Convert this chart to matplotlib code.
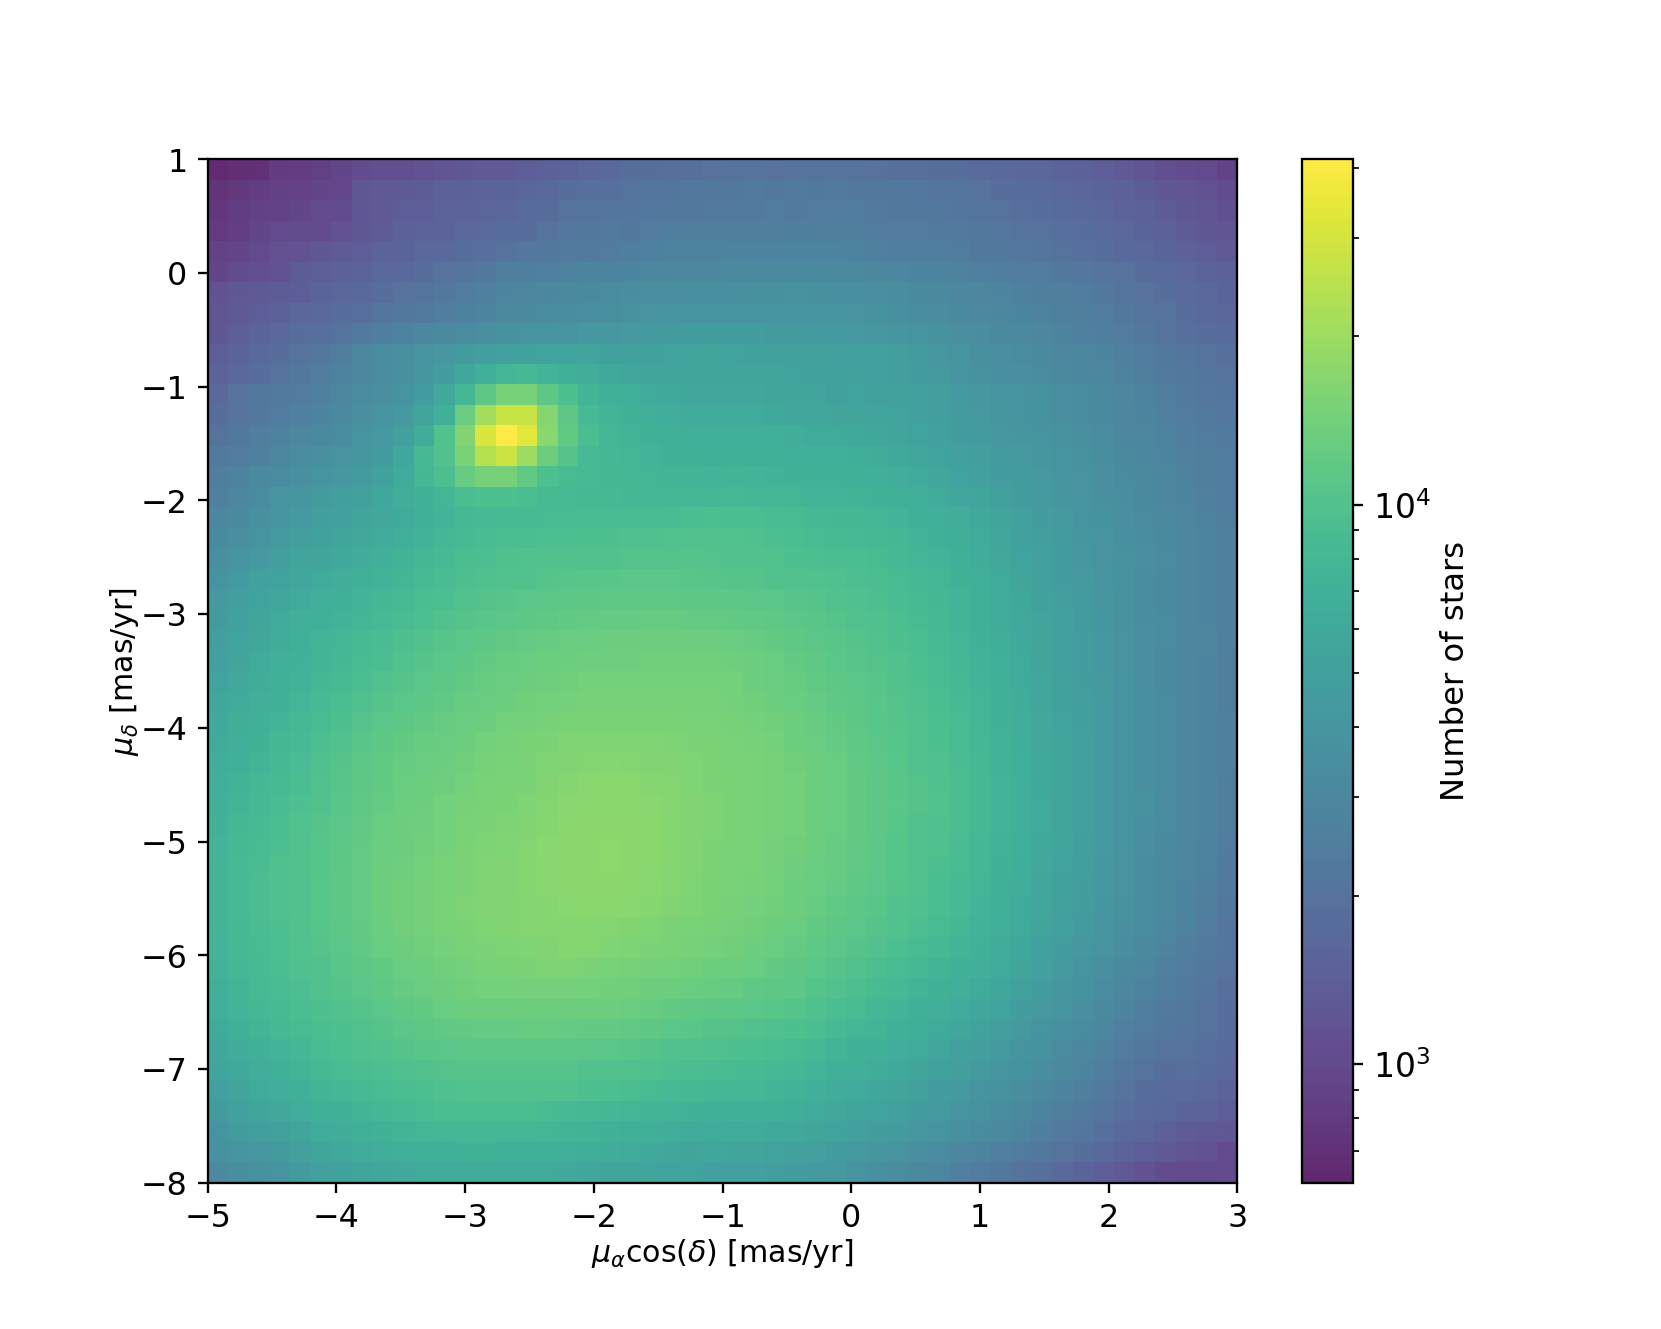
import numpy as np
import matplotlib
matplotlib.use("Agg")
import matplotlib.pyplot as plt
from matplotlib.colors import LogNorm

# proper motion bin edges
x_range = (-5.0, 3.0)
y_range = (-8.0, 1.0)
nbins = 50
vmin = 614
vmax = 41400

# star counts per bin, top row first
counts_top = [
[650,680,690,800,820,860,950,1050,1100,1100,1150,1200,1250,1300,1300,1400,1450,1500,1600,1700,1800,1850,1900,1900,1950,2000,2000,1950,2000,2050,2000,2000,1950,1900,1900,1850,1800,1750,1700,1600,1600,1500,1450,1400,1300,1200,1100,1050,1000,900],
[740,780,830,870,900,930,970,1250,1300,1300,1350,1450,1450,1500,1550,1600,1650,1850,1900,1900,2050,2100,2100,2200,2250,2250,2300,2250,2300,2250,2300,2250,2250,2200,2150,2100,2050,1950,1850,1800,1750,1650,1600,1550,1450,1350,1250,1200,1150,1050],
[770,830,880,900,950,1000,1010,1280,1300,1400,1420,1500,1520,1580,1620,1720,1780,2000,2050,2100,2100,2150,2200,2250,2300,2300,2300,2350,2300,2350,2350,2350,2300,2250,2250,2200,2100,2050,1950,1900,1850,1750,1700,1600,1500,1450,1350,1250,1200,1100],
[790,850,950,1000,1030,1050,1150,1250,1320,1450,1500,1550,1650,1750,1800,1850,2000,2150,2250,2300,2250,2400,2450,2500,2450,2500,2500,2500,2550,2550,2500,2450,2400,2400,2350,2300,2300,2250,2150,2050,2000,1900,1800,1750,1650,1550,1450,1350,1250,1200],
[900,950,1000,1120,1150,1250,1320,1400,1500,1550,1650,1700,1800,1900,2050,2150,2200,2300,2300,2400,2550,2650,2700,2700,2700,2750,2800,2800,2850,2800,2800,2700,2600,2550,2500,2450,2350,2250,2200,2150,2100,2000,1900,1800,1700,1650,1550,1450,1400,1300],
[950,1050,1100,1150,1350,1400,1450,1550,1650,1700,1850,1950,2050,2250,2500,2550,2600,2700,2750,2800,2850,2900,2950,3000,3000,3100,3100,3100,3150,3200,3150,3100,3000,2900,2800,2750,2700,2600,2500,2400,2350,2250,2150,2050,1950,1850,1750,1650,1550,1450],
[1150,1250,1300,1350,1400,1550,1600,1700,1850,1950,2050,2250,2400,2600,2800,2900,3000,3100,3200,3300,3400,3500,3500,3550,3600,3600,3650,3650,3700,3650,3600,3600,3500,3400,3200,3100,3000,2900,2750,2650,2550,2450,2350,2200,2050,1950,1850,1750,1650,1550],
[1200,1300,1400,1450,1600,1700,1800,1900,2100,2200,2300,2500,2650,2800,3100,3200,3300,3400,3500,3600,3700,3800,3850,3900,4000,4000,4000,3950,3950,3900,3850,3800,3700,3600,3450,3350,3200,3050,2950,2850,2700,2600,2500,2350,2250,2050,1950,1800,1700,1600],
[1250,1400,1550,1650,1800,1900,2050,2300,2500,2700,2900,3100,3300,3500,3700,3800,3900,4000,4200,4200,4300,4400,4500,4600,4700,4600,4600,4500,4500,4400,4400,4300,4200,4100,3900,3700,3500,3350,3200,3100,3000,2800,2600,2500,2400,2200,2050,1900,1800,1750],
[1400,1550,1700,1800,2000,2200,2500,3000,3300,3500,3800,4200,4500,4800,5000,5200,5300,5300,5400,5200,5100,5200,5300,5400,5500,5300,5200,5200,5100,5100,5000,5000,4900,4800,4500,4200,3900,3600,3500,3300,3200,3000,2900,2800,2600,2400,2250,2100,2000,1900],
[1500,1650,1850,2000,2200,2450,2700,3000,3300,3600,4100,4700,5700,6800,7800,8300,7500,7000,6500,6000,5800,5600,5500,5500,5500,5500,5400,5400,5300,5200,5200,5100,5000,4800,4600,4300,3900,3700,3600,3500,3300,3100,3000,2900,2700,2500,2300,2200,2100,2000],
[1650,1950,2250,2300,2400,2600,3000,3300,3500,3900,4600,5900,8000,11500,14500,14500,11500,9500,7700,7100,6800,6300,6000,5800,5800,5800,5800,5600,5500,5400,5200,5300,5100,5100,5000,4800,4400,4200,4000,3800,3700,3500,3300,3100,2900,2700,2500,2300,2150,2100],
[1800,2000,2250,2350,2600,2800,3100,3500,3900,4300,5500,7000,13000,21000,27000,27000,16500,11500,8500,7500,7200,6800,6500,6300,6200,6300,6200,6000,5800,5700,5600,5500,5400,5300,5000,4800,4500,4300,4100,3900,3700,3500,3300,3200,3000,2800,2600,2400,2300,2150],
[2000,2200,2500,2700,2900,3100,3300,3900,4300,4900,6400,9800,16000,31000,41400,33000,17000,12000,9000,7800,7500,7200,6900,6800,6700,6800,6700,6700,6500,6300,6200,6000,5800,5600,5300,5000,4700,4500,4200,4100,3900,3700,3500,3300,3000,2900,2700,2500,2400,2300],
[2300,2400,2600,3000,3300,3500,3800,4100,4600,5700,8200,10000,15000,24000,28000,20000,13500,10500,8500,8000,7800,7600,7300,7200,7100,7200,7100,7000,6800,6800,6700,6600,6400,6000,5700,5300,5000,4800,4500,4300,4100,3900,3700,3400,3200,3000,2800,2600,2500,2400],
[2500,2700,3100,3300,3600,3900,4200,4500,5200,6300,8000,9300,12500,14500,14500,12000,9500,8800,8400,8100,8000,7800,7700,7700,7600,7700,7500,7400,7300,7200,7200,7000,6800,6500,6200,5700,5300,5000,4700,4500,4300,4000,3800,3500,3300,3100,2900,2700,2500,2400],
[2600,2900,3300,3800,4100,4500,4800,5100,5800,6600,7200,7800,9000,9500,9500,9000,8600,8400,8300,8200,8100,8100,8000,8000,8000,8200,8100,8000,7800,7600,7500,7400,7200,7000,6700,6200,5700,5400,5100,4700,4400,4100,3800,3600,3400,3200,3000,2800,2600,2400],
[2900,3200,3600,4000,4400,4800,5000,5400,5900,6300,7000,7600,8200,8500,8600,8600,8700,8800,8800,8800,8800,8800,8900,9100,9300,9200,9100,8900,8700,8300,8100,8000,7800,7500,7100,6800,6500,6000,5500,5000,4700,4300,4000,3700,3500,3300,3100,2900,2700,2500],
[3200,3500,3900,4300,4800,5200,5600,5900,6300,6800,7400,8000,8500,8900,9100,9200,9300,9400,9500,9500,9600,9700,9800,9900,9900,9800,9600,9400,9100,8800,8600,8500,8300,8000,7600,7000,6600,6200,5700,5100,4800,4500,4100,3800,3600,3400,3200,3000,2800,2600],
[3500,3900,4300,4800,5400,5600,6000,6400,6800,7400,8000,8500,9000,9300,9600,9800,9900,10000,10100,10200,10300,10300,10300,10400,10300,10200,10000,9800,9500,9300,9100,9000,8700,8300,7900,7500,6900,6400,5900,5300,4900,4600,4200,3800,3700,3500,3300,3000,2800,2600],
[3900,4400,4900,5300,5800,6300,6500,6900,7400,7900,8500,8900,9300,9700,10000,10200,10400,10600,10800,10900,11000,11000,11000,10800,10600,10500,10400,10200,10000,9800,9600,9300,9000,8700,8300,7800,7300,6800,6200,5600,5100,4700,4300,4000,3700,3400,3200,3000,2800,2600],
[4300,4800,5300,5700,6200,6700,7000,7500,8000,8500,9000,9400,9900,10300,10700,11000,11200,11400,11600,11700,11700,11700,11700,11600,11500,11400,11200,11000,10700,10400,10100,9700,9300,8900,8600,8000,7500,6900,6300,5700,5200,4800,4400,4100,3700,3400,3200,3000,2800,2600],
[4500,5100,5600,6100,6700,7000,7400,7900,8400,8900,9400,9900,10400,10900,11200,11500,11800,12100,12300,12400,12400,12500,12500,12400,12400,12200,12000,11700,11200,10800,10400,10100,9700,9300,8700,8200,7700,7000,6400,5900,5400,5000,4500,4100,3700,3400,3300,3000,2800,2600],
[4800,5300,5800,6400,7000,7500,7900,8400,8900,9500,10000,10600,11100,11500,11900,12300,12600,12900,13000,13100,13100,13100,13100,13100,13200,13000,12600,12200,11700,11200,10800,10400,10000,9500,9000,8400,7900,7200,6600,6000,5500,5000,4600,4200,3800,3500,3300,3000,2900,2600],
[5000,5600,6100,6700,7200,7700,8100,8700,9200,9800,10500,11100,11600,12100,12500,12900,13200,13500,13600,13700,13700,13800,13800,13800,13800,13600,13200,12700,12200,11700,11100,10700,10300,9900,9300,8700,8100,7400,6800,6100,5500,5000,4600,4200,3800,3500,3200,3000,2800,2500],
[5300,5900,6400,6900,7400,8100,8600,9200,9900,10400,11000,11500,12000,12500,13000,13300,13600,13900,14000,14100,14200,14200,14200,14200,14200,14000,13500,13000,12500,12000,11500,11000,10600,10100,9500,8900,8300,7600,7000,6300,5700,5100,4700,4300,3900,3500,3200,3000,2800,2500],
[5700,6300,6800,7200,7900,8500,9100,9700,10500,11000,11500,12000,12500,13000,13400,13800,14100,14400,14500,14600,14600,14600,14600,14600,14500,14200,13900,13400,12800,12300,11800,11300,10800,10300,9700,9100,8500,7800,7100,6400,5800,5200,4800,4300,3900,3600,3300,3000,2800,2500],
[6000,6600,7100,7500,8200,8800,9500,10300,11000,11500,12000,12500,13000,13500,14000,14300,14600,14900,15000,15000,15000,15000,15000,14900,14800,14500,14200,13800,13200,12600,12100,11500,10900,10400,9900,9300,8700,7900,7200,6500,5900,5300,4800,4300,3900,3600,3300,3000,2800,2600],
[6200,6800,7300,8000,8500,9300,10000,10800,11500,12100,12500,13000,13500,14100,14600,15000,15400,15700,15800,15800,15800,15700,15600,15400,15200,14800,14500,14200,13500,13000,12400,11800,11200,10700,10100,9500,8800,8100,7400,6600,5900,5400,4900,4400,3900,3600,3300,3000,2800,2600],
[6500,7100,7700,8300,8900,9700,10500,11300,11900,12500,12900,13400,13900,14500,14900,15300,15800,16200,16400,16500,16400,16200,16000,15700,15300,15000,14700,14500,13800,13200,12700,12000,11400,10800,10200,9600,8900,8200,7400,6700,6000,5400,4900,4400,3900,3600,3300,3000,2800,2600],
[6800,7400,8000,8600,9100,9900,10700,11500,12200,12800,13200,13700,14200,14800,15000,15400,16000,16600,16800,16900,16800,16600,16300,15900,15400,15000,14800,14500,14000,13400,12800,12100,11500,10900,10300,9700,9000,8300,7500,6800,6000,5400,4900,4400,3900,3600,3300,3000,2800,2500],
[7000,7700,8300,8900,9500,10200,10900,11700,12400,13100,13500,14000,14500,15000,15100,15700,16300,17000,17200,17300,17100,16800,16500,16100,15500,15100,14900,14600,14200,13500,12900,12100,11500,11000,10400,9800,9100,8300,7500,6800,6100,5500,5000,4400,4000,3700,3300,3000,2800,2500],
[7300,8000,8500,9200,9800,10400,11200,12000,12700,13300,13700,14200,14700,15200,15500,16000,16500,17300,17500,17600,17400,17100,16600,16200,15500,15100,14900,14500,14100,13400,12800,12100,11500,10800,10200,9700,9000,8200,7500,6800,6100,5500,5000,4400,3900,3600,3300,3000,2800,2500],
[7500,8200,8800,9400,10000,10600,11400,12200,12900,13500,13900,14400,15000,15600,15900,16400,16800,17500,17600,17700,17500,17100,16600,16100,15400,15000,14800,14400,13900,13200,12600,12000,11400,10700,10200,9600,8900,8100,7400,6700,6000,5400,4800,4300,3900,3500,3200,3000,2700,2400],
[7700,8400,8900,9600,10000,10700,11500,12300,13100,13700,14200,14700,15300,15900,16100,16600,16900,17500,17600,17700,17500,17000,16500,16000,15200,14900,14700,14300,13600,13000,12500,11900,11300,10600,10000,9400,8700,8000,7300,6600,5900,5300,4800,4200,3800,3400,3100,2900,2700,2300],
[7700,8500,9000,9700,10100,10800,11600,12400,13200,13800,14400,14900,15400,16000,16200,16600,16900,17400,17500,17500,17300,16800,16300,15800,15100,14800,14500,14000,13400,12800,12300,11700,11100,10500,9900,9200,8500,7800,7100,6500,5800,5200,4700,4200,3800,3400,3100,2800,2600,2300],
[7700,8400,9000,9600,10100,10900,11600,12400,13200,13900,14400,15000,15500,16000,16000,16300,16700,17000,17100,17200,17000,16600,16100,15600,15000,14500,14300,13800,13200,12600,12000,11400,10900,10200,9700,9000,8400,7600,7000,6300,5700,5100,4600,4100,3700,3400,3100,2800,2500,2200],
[7700,8300,8900,9500,10000,10600,11400,12200,13000,13800,14300,14800,15300,15700,16000,16300,16600,16700,16600,16300,16000,15700,15300,14900,14600,14300,13900,13400,12800,12200,11600,11000,10400,9800,9300,8700,8100,7400,6800,6100,5500,4900,4400,4000,3600,3300,3000,2700,2400,2100],
[7600,8200,8800,9300,9800,10400,11100,11900,12700,13400,13900,14400,14900,15200,15500,15800,16200,16500,16300,15900,15600,15300,15000,14600,14300,13900,13500,13000,12400,11800,11200,10500,9900,9300,8800,8300,7700,7200,6400,5800,5200,4700,4200,3800,3400,3100,2800,2500,2300,2100],
[7400,8000,8600,9100,9600,10200,10800,11500,12200,12900,13400,13900,14300,14700,15000,15200,15500,15500,15200,14900,14600,14300,14100,13800,13500,13200,12700,12100,11500,11000,10400,9900,9400,8800,8300,7700,7200,6700,6100,5500,4900,4400,3900,3500,3200,2900,2600,2400,2200,2000],
[7100,7700,8400,8900,9400,9900,10500,11100,11700,12400,12900,13400,13800,14000,14200,14300,14400,14300,14100,13900,13800,13500,13100,12800,12600,12300,11800,11500,11300,10500,9900,9300,8700,8200,7700,7200,6800,6200,5700,5100,4600,4100,3700,3300,3000,2700,2500,2300,2100,1900],
[6800,7500,8100,8600,9000,9500,9900,10500,11100,11700,12200,12700,13100,13400,13500,13500,13500,13400,13300,13100,12900,12600,12100,11800,11500,11300,11000,10800,10400,9700,9200,8700,8100,7600,7100,6700,6200,5800,5300,4700,4300,3900,3500,3100,2800,2500,2300,2200,2000,1850],
[6300,7000,7700,8200,8700,9100,9500,10000,10500,11100,11500,11900,12200,12300,12400,12500,12500,12400,12200,12100,11900,11500,11100,10800,10400,10300,10000,9700,9500,9000,8400,7900,7500,7000,6600,6200,5700,5300,4800,4300,4000,3600,3300,2900,2600,2400,2200,2100,2000,1800],
[5800,6400,7100,7600,8100,8800,9300,9700,10000,10400,10800,11100,11300,11400,11400,11400,11400,11300,11200,11100,10800,10500,10200,9900,9600,9500,9300,9000,8700,8200,7700,7300,6900,6500,6100,5700,5200,4800,4400,4000,3700,3300,3000,2700,2400,2200,2000,2000,1900,1750],
[5400,6000,6500,7000,7700,8300,8800,9000,9400,9700,10000,10300,10400,10500,10500,10500,10500,10400,10200,10000,9800,9600,9400,9100,8900,8800,8600,8300,8000,7500,7100,6700,6400,6000,5600,5200,4800,4400,4000,3700,3400,3100,2800,2500,2200,2000,1850,1900,1800,1650],
[5000,5600,6100,6500,7100,7700,8100,8400,8800,9100,9400,9700,9800,9900,10000,10100,10200,9900,9500,9300,9000,8800,8500,8300,8100,8100,8000,7700,7400,6800,6400,6100,5800,5500,5100,4700,4400,4000,3700,3400,3100,2800,2500,2300,2000,1850,1750,1750,1650,1500],
[4500,5000,5500,5900,6500,7000,7300,7700,8100,8400,8700,9000,9200,9200,9100,9000,8800,8500,8300,8100,7900,7700,7500,7300,7100,7200,7100,6900,6600,6200,5900,5600,5300,5000,4700,4300,4000,3700,3400,3100,2800,2500,2300,2100,1900,1750,1700,1550,1500,1400],
[4000,4500,4800,5100,5600,6100,6400,6900,7300,7500,7800,8000,8100,8100,8000,8000,7800,7600,7400,7200,7000,6800,6500,6300,6100,6300,6200,6000,5900,5600,5300,5000,4700,4500,4200,3900,3600,3300,3100,2800,2500,2300,2100,1900,1700,1600,1450,1350,1300,1250],
[3700,4000,4200,4500,5100,5600,6000,6300,6500,6700,6900,7000,7200,7200,7100,7000,6900,6700,6600,6400,6300,6000,5800,5600,5700,5600,5500,5300,5100,4900,4600,4300,4100,3800,3500,3300,3000,2800,2600,2400,2200,2000,1850,1700,1500,1400,1300,1200,1150,1000],
[3100,3400,3700,4000,4500,4900,5200,5500,5800,5900,6100,6100,6200,6200,6200,6100,6100,5900,5800,5600,5500,5400,5300,5300,5000,5000,4900,4800,4600,4400,4300,4000,3600,3300,3100,2900,2600,2400,2200,2000,1900,1700,1550,1400,1300,1150,1050,1000,1000,1050],
]

xtick_vals = [-5, -4, -3, -2, -1, 0, 1, 2, 3]
ytick_vals = [-8, -7, -6, -5, -4, -3, -2, -1, 0, 1]

counts = np.array(counts_top)[::-1]
xedges = np.linspace(x_range[0], x_range[1], nbins + 1)
yedges = np.linspace(y_range[0], y_range[1], nbins + 1)

fig, ax = plt.subplots(figsize=(8, 6.402), dpi=207.625)
mesh = ax.pcolormesh(xedges, yedges, counts, cmap="viridis", alpha=0.85,
                     norm=LogNorm(vmin=vmin, vmax=vmax))
ax.set_xticks(xtick_vals)
ax.set_yticks(ytick_vals)
ax.tick_params(labelsize=11)
ax.set_xlabel(r"$\mu_{\alpha}\cos(\delta)$ [mas/yr]", fontsize=10.4, labelpad=1)
ax.set_ylabel(r"$\mu_{\delta}$ [mas/yr]", fontsize=10.4, labelpad=0)

cbar = fig.colorbar(mesh, ax=ax)
cbar.set_label("Number of stars", fontsize=11.2, labelpad=3)
cbar.ax.tick_params(labelsize=11.5)

fig.savefig("out.png", dpi=207.625)
